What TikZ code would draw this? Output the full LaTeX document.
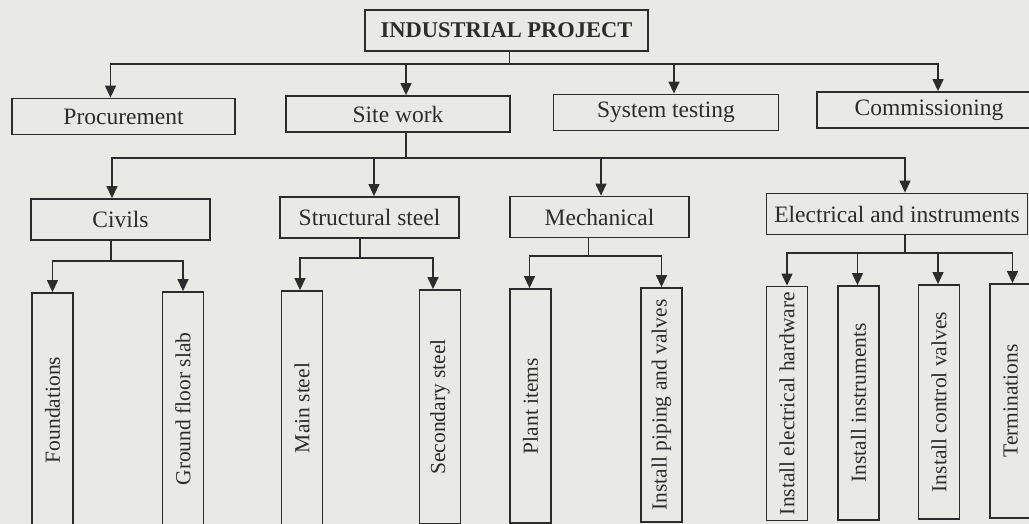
\documentclass[tikz,border=0pt]{standalone}
\usepackage{fontspec}
\setmainfont{Liberation Serif}
\usepackage{graphicx}
\usepackage{tikz}
\usetikzlibrary{arrows.meta}
\definecolor{paper}{HTML}{E9E9E6}
\definecolor{ink}{HTML}{2C2C2C}

\begin{document}
\begin{tikzpicture}[x=1pt,y=-1pt,
    box/.style={draw=ink,line width=1.8pt,text=ink,inner sep=0pt,
      font=\fontsize{23.5}{27}\selectfont},
    wide/.style={box,minimum height=36pt},
    mid/.style={box,minimum height=41pt},
    tall/.style={box,minimum width=41pt,minimum height=234pt,
      font=\fontsize{21.5}{25}\selectfont},
    link/.style={draw=ink,line width=1.3pt},
    arr/.style={link,-{Triangle[width=11pt,length=12pt]}}]
	  \clip (0,0) rectangle (1029,524);
	  \fill[paper] (0,0) rectangle (1029,524);

	  % top of the breakdown
	  \node[box,minimum width=283pt,minimum height=41pt,
	    font=\fontsize{22.5}{26}\selectfont\bfseries] (proj) at (506.5,30.5) {INDUSTRIAL PROJECT};

	  % first level
	  \node[wide,minimum width=223pt] (proc) at (123.5,116.5) {Procurement};
	  \node[wide,minimum width=224pt] (site) at (398,114) {Site work};
	  \node[wide,minimum width=225pt] (test) at (666,112.5) {System testing};
	  \node[wide,minimum width=224pt] (comm) at (929,110) {Commissioning};

	  % site work trades
	  \node[mid,minimum width=179pt] (civ) at (120.5,219.5) {Civils};
	  \node[mid,minimum width=179pt] (struc) at (369.5,217.5) {Structural steel};
	  \node[mid,minimum width=179pt] (mech) at (599.5,217) {Mechanical};
	  \node[mid,minimum width=261pt] (elec) at (897,214) {Electrical and instruments};

	  % work packages
	  \node[tall] (found) at (52.5,410) {\rotatebox{90}{Foundations}};
	  \node[tall] (slab) at (183,409) {\rotatebox{90}{Ground floor slab}};
	  \node[tall] (mainst) at (302,408) {\rotatebox{90}{Main steel}};
	  \node[tall] (secst) at (440,407) {\rotatebox{90}{Secondary steel}};
	  \node[tall] (plant) at (530.5,406) {\rotatebox{90}{Plant items}};
	  \node[tall] (pipe) at (661.5,405) {\rotatebox{90}{Install piping and valves}};
	  \node[tall] (hard) at (787,403.5) {\rotatebox{90}{Install electrical hardware}};
	  \node[tall] (inst) at (858.5,403) {\rotatebox{90}{Install instruments}};
	  \node[tall] (cval) at (939,402) {\rotatebox{90}{Install control valves}};
	  \node[tall] (term) at (1010.5,401) {\rotatebox{90}{Terminations}};

	  % project -> first level
	  \draw[arr] ([xshift=3pt]proj.south) -- ++(0,12) -| ([xshift=-13pt]proc.north);
	  \draw[arr] ([xshift=3pt]proj.south) -- ++(0,12) -| ([xshift=8pt]site.north);
	  \draw[arr] ([xshift=3pt]proj.south) -- ++(0,12) -| ([xshift=8pt]test.north);
	  \draw[arr] ([xshift=3pt]proj.south) -- ++(0,12) -| ([xshift=9pt]comm.north);

	  % site work -> trades
	  \draw[arr] ([xshift=8pt]site.south) -- ++(0,25) -| ([xshift=-8.5pt]civ.north);
	  \draw[arr] ([xshift=8pt]site.south) -- ++(0,25) -| ([xshift=4.5pt]struc.north);
	  \draw[arr] ([xshift=8pt]site.south) -- ++(0,25) -| ([xshift=1.5pt]mech.north);
	  \draw[arr] ([xshift=8pt]site.south) -- ++(0,25) -| ([xshift=8pt]elec.north);

	  % trades -> packages
	  \draw[arr] ([xshift=-9.5pt]civ.south) -- ++(0,20) -| (found.north);
	  \draw[arr] ([xshift=-9.5pt]civ.south) -- ++(0,20) -| (slab.north);
	  \draw[arr] ([xshift=-9.5pt]struc.south) -- ++(0,19) -| ([xshift=-2pt]mainst.north);
	  \draw[arr] ([xshift=-9.5pt]struc.south) -- ++(0,19) -| ([xshift=-7pt]secst.north);
	  \draw[arr] ([xshift=-11pt]mech.south) -- ++(0,17.5) -| ([xshift=-1pt]plant.north);
	  \draw[arr] ([xshift=-11pt]mech.south) -- ++(0,17.5) -| (pipe.north);
	  \draw[arr] ([xshift=8pt]elec.south) -- ++(0,17.5) -| (hard.north);
	  \draw[arr] ([xshift=8pt]elec.south) -- ++(0,17.5) -| ([xshift=-1pt]inst.north);
	  \draw[arr] ([xshift=8pt]elec.south) -- ++(0,17.5) -| ([xshift=-1pt]cval.north);
	  \draw[arr] ([xshift=8pt]elec.south) -- ++(0,17.5) -| ([xshift=2pt]term.north);
	\end{tikzpicture}
\end{document}
